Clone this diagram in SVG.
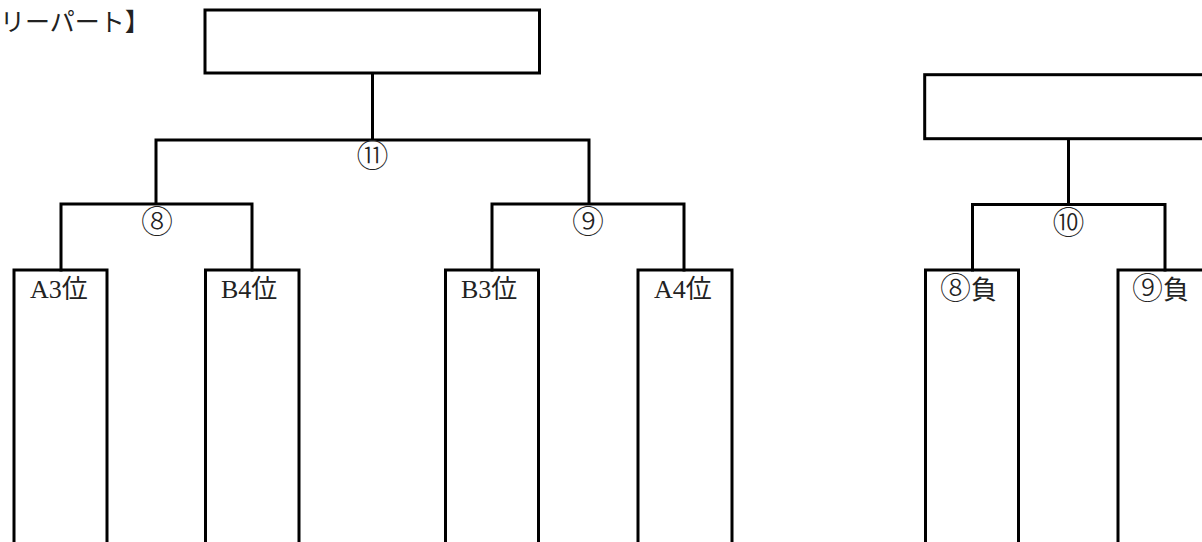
<svg xmlns="http://www.w3.org/2000/svg" width="1202" height="542" viewBox="0 0 1202 542">
<style>
.ln{fill:none;stroke:#000;stroke-width:3;stroke-linecap:square}
.bx{fill:#fff;stroke:#000;stroke-width:3}
.t{font-family:"Liberation Serif","Noto Sans CJK JP",serif;font-size:26px;fill:#222}
.c{font-family:"Noto Sans CJK JP","DejaVu Sans",sans-serif;font-size:32px;fill:#222;text-anchor:middle;font-weight:300}
.ci{font-family:"Noto Sans CJK JP","DejaVu Sans",sans-serif;font-size:31px;font-weight:300}
</style>
<rect width="1202" height="542" fill="#fff"/>
<text class="t" x="0" y="31" style="font-size:25px">リーパート】</text>
<g id="connectors">
<path class="ln" d="M372.5,73V140M156,140H589M156,140V204M589,140V204M61,204H252M61,204V270M252,204V270M492,204H684M492,204V270M684,204V270"/>
<path class="ln" d="M1068.5,139V204.5M972.5,204.5H1165M972.5,204.5V270M1165,204.5V270"/>
</g>
<g id="final">
<rect class="bx" x="205" y="10" width="334.5" height="63"/>
</g>
<g id="third">
<rect class="bx" x="924.7" y="74.7" width="290" height="64"/>
</g>
<g id="labels">
<text class="c" x="372.5" y="167">⑪</text>
<text class="c" x="157" y="233">⑧</text>
<text class="c" x="588" y="233">⑨</text>
<text class="c" x="1068.5" y="234">⑩</text>
</g>
<g id="A3"><path class="ln" d="M14,545V270H107V545"/><text class="t" x="30" y="298">A3位</text></g>
<g id="B4"><path class="ln" d="M205.5,545V270H299V545"/><text class="t" x="221" y="298">B4位</text></g>
<g id="B3"><path class="ln" d="M445.5,545V270H538.5V545"/><text class="t" x="461" y="298">B3位</text></g>
<g id="A4"><path class="ln" d="M638,545V270H732V545"/><text class="t" x="654" y="298">A4位</text></g>
<g id="L8"><path class="ln" d="M925.5,545V270H1018.5V545"/><text class="t" x="940" y="299"><tspan class="ci">⑧</tspan>負</text></g>
<g id="L9"><path class="ln" d="M1118,545V270H1210"/><text class="t" x="1132" y="299"><tspan class="ci">⑨</tspan>負</text></g>
</svg>
